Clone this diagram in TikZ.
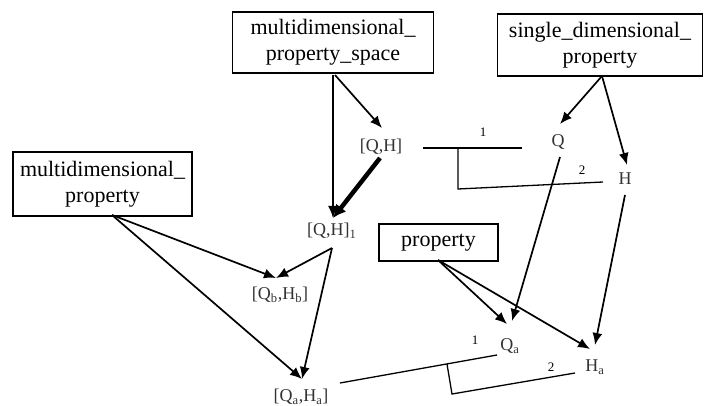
\documentclass[tikz,border=0pt]{standalone}
\usepackage{fontspec}
\setmainfont{Liberation Serif}
\usetikzlibrary{arrows.meta}
\begin{document}
\begin{tikzpicture}[x=1pt,y=-1pt,
  box/.style={draw,line width=1.2pt,font=\fontsize{22}{26}\selectfont,align=center,inner sep=0pt},
  lbl/.style={font=\fontsize{18}{22}\selectfont,inner sep=1pt,text=black!80},
  num/.style={font=\fontsize{13}{15}\selectfont,inner sep=0pt},
  arr/.style={line width=1.7pt,-{Latex[length=12pt,width=10pt]}},
  fatarr/.style={line width=4.5pt,-{Latex[length=13pt,width=13pt]}},
  ln/.style={line width=1.3pt}]
\useasboundingbox[fill=white] (0,0) rectangle (704,406);
% boxes
\node[box,minimum width=201pt,minimum height=61pt] (mps) at (333,42.5) {multidimensional\_\\property\_space};
\node[box,minimum width=205pt,minimum height=62pt] (sdp) at (600,45) {single\_dimensional\_\\property};
\node[box,minimum width=179pt,minimum height=64pt] (mp) at (102.5,184) {multidimensional\_\\property};
\node[box,minimum width=119pt,minimum height=37pt] (prop) at (438.5,242.5) {property};
% text nodes
\node[lbl] (qh) at (381,147) {[Q,H]};
\node[lbl] (q) at (558,142) {Q};
\node[lbl] (h) at (625,179) {H};
\node[lbl,anchor=west] (qh1) at (306,231) {[Q,H]\textsubscript{1}};
\node[lbl] (qbhb) at (280,295) {[Q\textsubscript{b},H\textsubscript{b}]};
\node[lbl] (qa) at (510,346) {Q\textsubscript{a}};
\node[lbl] (ha) at (595,367) {H\textsubscript{a}};
\node[lbl] (qaha) at (301,397) {[Q\textsubscript{a},H\textsubscript{a}]};
% numbers
\node[num] (n1a) at (483,132) {1};
\node[num] (n2a) at (582,170) {2};
\node[num] (n1b) at (475,340) {1};
\node[num] (n2b) at (551,367) {2};
% ports
\coordinate (mpsout) at (335,75);
\coordinate (mpsoutv) at (333,75);
\coordinate (qhtip) at (382,128);
\coordinate (qh1tip) at (333,218);
\coordinate (qhout) at (380,158);
\coordinate (sdpout) at (602,76);
\coordinate (qtip) at (560,124);
\coordinate (htip) at (627,165);
\coordinate (qout) at (560,157);
\coordinate (qatip) at (512,321);
\coordinate (hout) at (625,195);
\coordinate (hatip) at (595,345);
\coordinate (propout) at (438,260);
\coordinate (qatipb) at (507,324);
\coordinate (hatipb) at (590,349);
\coordinate (mpout) at (112,215);
\coordinate (qbhbtip) at (276,278);
\coordinate (qahatip) at (302,379);
\coordinate (qh1out) at (332,248);
% arrows
\draw[arr] (mpsout) -- (qhtip);
\draw[arr] (mpsoutv) -- (qh1tip);
\draw[fatarr] (qhout) -- (qh1tip);
\draw[arr] (sdpout) -- (qtip);
\draw[arr] (sdpout) -- (htip);
\draw[arr] (qout) -- (qatip);
\draw[arr] (hout) -- (hatip);
\draw[arr] (propout) -- (qatipb);
\draw[arr] (propout) -- (hatipb);
\draw[arr] (mpout) -- (qbhbtip);
\draw[arr] (mpout) -- (qahatip);
\draw[arr] (qh1out) -- (qbhbtip);
\draw[arr] (qh1out) -- (qahatip);
% brackets
\coordinate (b1s) at (423,148);
\coordinate (b1e) at (522,148);
\coordinate (b1j) at (458,148);
\coordinate (b1d) at (458,189);
\coordinate (b1h) at (603,182);
\draw[ln] (b1s) -- (b1e);
\draw[ln] (b1j) -- (b1d) -- (b1h);
\coordinate (b2s) at (340,383);
\coordinate (b2e) at (497,355);
\coordinate (b2j) at (447,364);
\coordinate (b2d) at (452,394);
\coordinate (b2h) at (575,373);
\draw[ln] (b2s) -- (b2e);
\draw[ln] (b2j) -- (b2d) -- (b2h);
\end{tikzpicture}
\end{document}
